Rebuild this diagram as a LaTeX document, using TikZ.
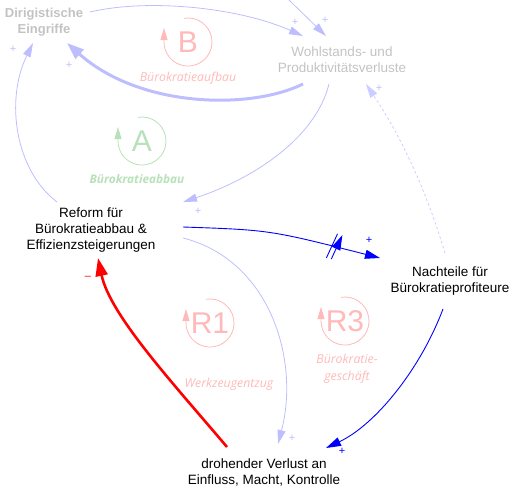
\documentclass[tikz,border=0pt]{standalone}
\usepackage{fontspec}
\setmainfont{Liberation Sans}
\newfontfamily\loopfont{Open Sans}
\usetikzlibrary{arrows.meta,decorations.markings}

\definecolor{linkblue}{RGB}{190,190,255}
\definecolor{linkdash}{RGB}{205,205,255}
\definecolor{loopred}{RGB}{255,185,185}
\definecolor{loopgreen}{RGB}{185,225,185}
\definecolor{greytext}{RGB}{195,195,195}

\tikzset{
  var/.style={inner sep=0pt, outer sep=0pt, align=center,
    font=\fontsize{13.5}{16}\selectfont},
  link/.style={draw=linkblue, line width=0.8pt,
    -{Triangle[length=14pt,width=8pt]}},
  strong/.style={link, line width=3pt, -{Triangle[length=17pt,width=12pt]}},
  push/.style={draw=blue, line width=0.9pt, -{Triangle[length=15pt,width=9pt]}},
  contra/.style={draw=red, line width=2.6pt, -{Triangle[length=18pt,width=12pt]}},
  sign/.style={inner sep=0pt, font=\fontsize{11}{11}\selectfont, text=linkblue},
  loopsign/.style={circle, minimum size=48pt, inner sep=0pt, outer sep=0pt,
    font=\fontsize{30}{30}\selectfont},
  loopring/.style={line width=0.8pt, -{Triangle[length=12pt,width=7pt]}},
  looplabel/.style={inner sep=0pt, align=center,
    font=\loopfont\itshape\fontsize{12.3}{17}\selectfont}
}

\begin{document}
\begin{tikzpicture}[x=1pt,y=-1pt]
    \useasboundingbox (0,0) rectangle (520,498);

    % Variablen
    \node[var, minimum width=92pt, minimum height=42pt, text=greytext,
      font=\bfseries\fontsize{13}{16}\selectfont] (dirig) at (44,22)
      {Dirigistische\\Eingriffe};
    \node[var, minimum width=140pt, minimum height=48pt, text=greytext] (wohl)
      at (342,60) {Wohlstands- und\\Produktivitätsverluste};
    \node[var, minimum width=184pt, minimum height=56pt] (reform) at (91,230)
      {Reform für\\Bürokratieabbau \&\\Effizienzsteigerungen};
    \node[var, minimum width=140pt, minimum height=56pt] (nachteile) at (450,281)
      {Nachteile für\\Bürokratieprofiteure};
    \node[var, minimum width=170pt, minimum height=56pt] (drohend) at (264,472)
      {drohender Verlust an\\Einfluss, Macht, Kontrolle};
    \coordinate (above) at (289,0);

    % Schleifen
    \node[loopsign, text=loopred] (loopB) at (188,42) {B};
    \draw[loopring, loopred] (loopB.100) arc[start angle=100, end angle=-180, radius=24pt] -- ++(0pt,14pt);
    \node[looplabel, text=loopred] (labB) at (188,78) {Bürokratieaufbau};

    \node[loopsign, text=loopgreen] (loopA) at (142,141) {A};
    \draw[loopring, loopgreen] (loopA.100) arc[start angle=100, end angle=-180, radius=24pt] -- ++(0pt,14pt);
    \node[looplabel, text=loopgreen, font=\loopfont\bfseries\itshape\fontsize{11.8}{17}\selectfont]
      (labA) at (137,179) {Bürokratieabbau};

    \node[loopsign, text=loopred] (loopR1) at (210,323) {R1};
    \draw[loopring, loopred] (loopR1.100) arc[start angle=100, end angle=-180, radius=24pt] -- ++(0pt,14pt);
    \node[looplabel, text=loopred] (labR1) at (229,384) {Werkzeugentzug};

    \node[loopsign, text=loopred] (loopR3) at (345,321) {R3};
    \draw[loopring, loopred] (loopR3.100) arc[start angle=100, end angle=-180, radius=24pt] -- ++(0pt,14pt);
    \node[looplabel, text=loopred] (labR3) at (347,369) {Bürokratie-\\geschäft};

    % Verbindungen
    \draw[link] ([yshift=10pt]dirig.east) .. controls (150,-2) and (240,8) .. ([xshift=-39pt]wohl.north);
    \draw[link] (above) -- ([xshift=-16pt]wohl.north);
    \draw[strong] ([xshift=-39pt]wohl.south) .. controls (250,110) and (140,108) .. ([xshift=23pt]dirig.south);
    \draw[link] ([xshift=-34pt]reform.north) .. controls (15,170) and (5,100) .. ([xshift=-11pt]dirig.south);
    \draw[link] ([xshift=-13pt]wohl.south) .. controls (315,140) and (250,180) .. (reform.north east);
    \draw[push, postaction={decorate, decoration={markings, mark=at position 0.76 with {
        \draw[blue, line width=0.9pt] (-4pt,-13pt) -- (1pt,13pt) (1pt,-13pt) -- (6pt,13pt);}}}]
      ([yshift=3pt]reform.east) .. controls (270,230) .. ([yshift=-5pt]nachteile.north west);
    \draw[link] ([yshift=-8pt]reform.east) .. controls (270,260) and (300,360) .. ([xshift=14pt]drohend.north);
    \draw[contra] ([xshift=-37pt,yshift=-3pt]drohend.north) .. controls (172,382) and (110,315) .. ([xshift=7pt]reform.south);
    \draw[push] ([xshift=-7pt]nachteile.south) .. controls (420,370) and (375,425) .. ([xshift=62pt,yshift=-4pt]drohend.north);
    \draw[link, draw=linkdash, dash pattern=on 2.5pt off 2.5pt] ([xshift=-5pt]nachteile.north) .. controls (420,170) and (390,120) .. ([xshift=24pt]wohl.south);

    % Polaritäten
    \node[sign] (s1) at (295,22) {+};
    \node[sign] (s2) at (325,20) {+};
    \node[sign] (s3) at (69,65) {+};
    \node[sign] (s4) at (13,49) {+};
    \node[sign] (s5) at (198,211) {+};
    \node[sign, text=blue] (s6) at (369,240) {+};
    \node[sign] (s7) at (292,438) {+};
    \node[sign, text=red] (s8) at (88,278) {\textendash};
    \node[sign, text=blue] (s9) at (342,451) {+};
    \node[sign] (s10) at (379,88) {+};
\end{tikzpicture}
\end{document}
